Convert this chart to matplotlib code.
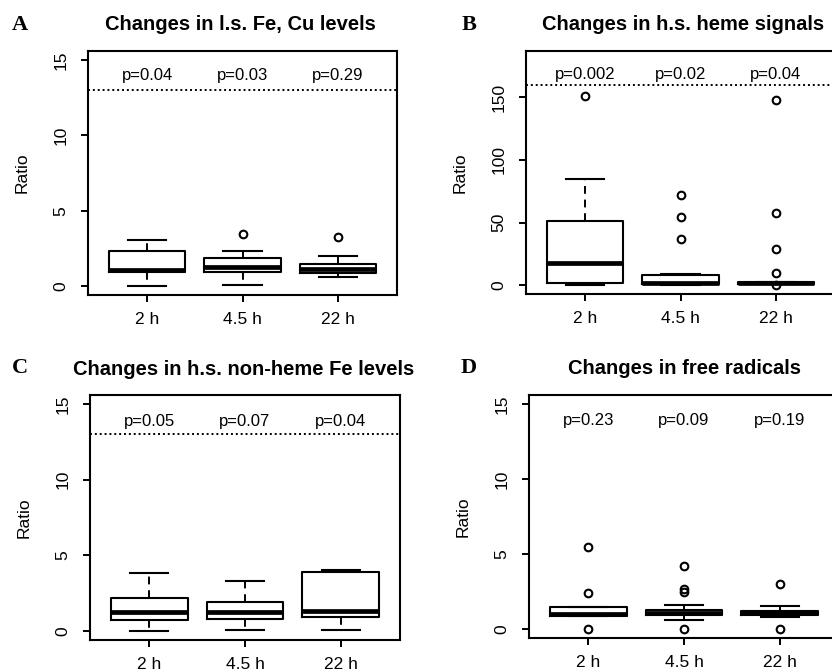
import matplotlib
matplotlib.use('Agg')
import matplotlib.pyplot as plt

W = 832
H = 671

plt.rcParams['font.family'] = ['Liberation Sans', 'DejaVu Sans']
plt.rcParams['font.size'] = 11.5

groups = ['2 h', '4.5 h', '22 h']

# panel A: l.s. Fe, Cu levels
A_whislo = [0.0, 0.05, 0.58]
A_q1 = [0.95, 0.95, 0.84]
A_med = [1.06, 1.28, 1.1]
A_q3 = [2.33, 1.83, 1.44]
A_whishi = [3.05, 2.33, 2.0]
A_fliers = [[], [3.43], [3.27]]
A_p = ['p=0.04', 'p=0.03', 'p=0.29']

# panel B: h.s. heme signals
B_whislo = [0.0, 0.0, 0.8]
B_q1 = [1.3, 0.5, 1.0]
B_med = [17.8, 1.5, 1.8]
B_q3 = [51.2, 7.7, 2.4]
B_whishi = [84.7, 8.5, 2.8]
B_fliers = [[150.8], [71.7, 54.2, 36.9], [148.0, 57.6, 28.9, 9.8, 0.0]]
B_p = ['p=0.002', 'p=0.02', 'p=0.04']

# panel C: h.s. non-heme Fe levels
C_whislo = [0.0, 0.04, 0.07]
C_q1 = [0.75, 0.8, 0.95]
C_med = [1.22, 1.22, 1.35]
C_q3 = [2.19, 1.88, 3.87]
C_whishi = [3.8, 3.31, 4.02]
C_fliers = [[], [], []]
C_p = ['p=0.05', 'p=0.07', 'p=0.04']

# panel D: free radicals
D_whislo = [0.84, 0.6, 0.77]
D_q1 = [0.84, 0.95, 0.95]
D_med = [1.0, 1.08, 1.08]
D_q3 = [1.44, 1.26, 1.21]
D_whishi = [1.44, 1.61, 1.55]
D_fliers = [[5.44, 2.39, 0.0], [4.2, 2.67, 2.5, 0.0], [2.99, 0.0]]
D_p = ['p=0.23', 'p=0.09', 'p=0.19']


def make_stats(whislo, q1, med, q3, whishi, fliers):
    out = []
    for i in range(len(med)):
        out.append(dict(whislo=whislo[i], q1=q1[i], med=med[i], q3=q3[i],
                        whishi=whishi[i], fliers=fliers[i]))
    return out


fig = plt.figure(figsize=(W / 100, H / 100), dpi=100)


def panel(px_left, px_top, px_bottom, px_width, stats, ylim, yticks, pvals,
          p_y, line_y, title, title_xy, letter, letter_xy):
    ax = fig.add_axes([px_left / W, 1 - px_bottom / H,
                       px_width / W, (px_bottom - px_top) / H])
    ax.bxp(stats, positions=[1, 2, 3], widths=0.8, showfliers=True,
           boxprops=dict(color='black', linewidth=1.5),
           medianprops=dict(color='black', linewidth=3.4, solid_capstyle='butt'),
           whiskerprops=dict(color='black', linewidth=1.4, linestyle=(0, (4, 3))),
           capprops=dict(color='black', linewidth=1.5),
           flierprops=dict(marker='o', markerfacecolor='none', markeredgecolor='black',
                           markersize=5.5, markeredgewidth=1.5),
           capwidths=0.4)
    ax.set_xlim(0.38, 3.62)
    ax.set_ylim(*ylim)
    ax.set_xticks([1, 2, 3])
    ax.set_xticklabels(groups, fontsize=12.5)
    ax.set_yticks(yticks)
    ax.set_yticklabels([str(t) for t in yticks], rotation=90, va='center', fontsize=12.5)
    ax.tick_params(direction='out', length=5, width=1.4)
    ax.tick_params(axis='x', pad=7)
    ax.tick_params(axis='y', pad=9)
    for s in ax.spines.values():
        s.set_linewidth(1.5)
    ax.set_ylabel('Ratio', fontsize=12.5, labelpad=17)
    if line_y is not None:
        ax.axhline(line_y, color='black', linestyle=(0, (1, 1.5)), linewidth=1.4)
    for i, p in enumerate(pvals):
        ax.text(i + 1, p_y, p, ha='center', va='center', fontsize=12)
    fig.text(title_xy[0] / W, 1 - title_xy[1] / H, title, ha='center', va='center',
             fontsize=14.5, fontweight='bold')
    fig.text(letter_xy[0] / W, 1 - letter_xy[1] / H, letter, ha='center', va='center',
             fontsize=16, fontweight='bold', family='Liberation Serif')
    return ax


panel(88, 51, 295, 309, make_stats(A_whislo, A_q1, A_med, A_q3, A_whishi, A_fliers),
      (-0.6, 15.6), [0, 5, 10, 15], A_p, 14.0, 13, 'Changes in l.s. Fe, Cu levels',
      (240, 25), 'A', (20, 25))
panel(526, 51, 294, 309, make_stats(B_whislo, B_q1, B_med, B_q3, B_whishi, B_fliers),
      (-7.2, 187.2), [0, 50, 100, 150], B_p, 168.5, 160, 'Changes in h.s. heme signals',
      (683, 25), 'B', (469, 25))
panel(90, 395, 640, 310, make_stats(C_whislo, C_q1, C_med, C_q3, C_whishi, C_fliers),
      (-0.6, 15.6), [0, 5, 10, 15], C_p, 13.85, 13, 'Changes in h.s. non-heme Fe levels',
      (244, 370), 'C', (20, 368))
panel(529, 395, 638, 310, make_stats(D_whislo, D_q1, D_med, D_q3, D_whishi, D_fliers),
      (-0.6, 15.6), [0, 5, 10, 15], D_p, 13.9, None, 'Changes in free radicals',
      (684, 368), 'D', (469, 368))

fig.savefig('out.png', dpi=100)
